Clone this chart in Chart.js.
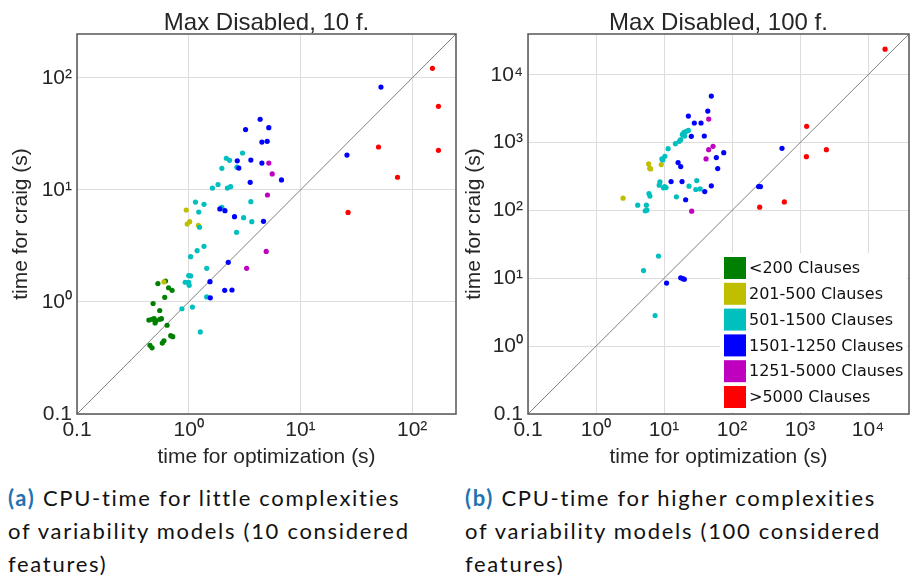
<!DOCTYPE html>
<html>
<head>
<meta charset="utf-8">
<script src="https://cdn.jsdelivr.net/npm/chart.js@4.4.0/dist/chart.umd.min.js"></script>
<style>
  body { margin: 0; background: #fff; width: 913px; height: 576px; position: relative; overflow: hidden; }
  canvas { position: absolute; top: 0; }
  .cap { position: absolute; top: 481px; font-family: Lato, sans-serif; font-size: 22px; line-height: 33px; letter-spacing: 1.7px; color: #111; white-space: nowrap; }
  .cap b { color: #2272b0; }
</style>
</head>
<body>
<canvas id="chartA" width="460" height="470" style="left:0px"></canvas>
<canvas id="chartB" width="453" height="470" style="left:460px"></canvas>
<div class="cap" style="left:8px"><b>(a)</b> CPU-time for little complexities<br>of variability models (10 considered<br>features)</div>
<div class="cap" style="left:465px"><b>(b)</b> CPU-time for higher complexities<br>of variability models (100 considered<br>features)</div>
<script>
// categories
const groupLabels = ['<200 Clauses', '201-500 Clauses', '501-1500 Clauses', '1501-1250 Clauses', '1251-5000 Clauses', '>5000 Clauses'];
const groupColors = ['#008000', '#bfbf00', '#00bfbf', '#0000ff', '#bf00bf', '#ff0000'];

// --- 10 features ---
const green10X = [0.53, 0.62, 0.66, 0.71, 0.61, 0.48, 0.55, 0.44, 0.47, 0.49, 0.51, 0.50, 0.55, 0.57, 0.64, 0.69, 0.72, 0.58, 0.60, 0.45, 0.47];
const green10Y = [1.46, 1.54, 1.34, 1.27, 1.10, 0.97, 0.84, 0.69, 0.70, 0.71, 0.68, 0.65, 0.70, 0.71, 0.62, 0.50, 0.49, 0.43, 0.45, 0.41, 0.39];
const yellow10X = [0.95, 1.02, 0.97, 1.22, 0.60];
const yellow10Y = [6.63, 5.21, 4.97, 4.84, 1.51];
const cyan10X = [3.03, 2.17, 2.32, 1.98, 2.70, 1.83, 1.63, 2.22, 2.37, 1.15, 1.37, 3.60, 1.98, 1.23, 3.10, 3.67, 1.25, 2.68, 1.37, 1.19, 1.04, 1.45, 1.00, 1.04, 0.93, 1.00, 1.01, 1.45, 0.87, 1.08, 1.27];
const cyan10Y = [21.4, 19.2, 18.4, 15.6, 16.0, 11.2, 10.4, 10.4, 10.7, 7.8, 7.45, 7.86, 7.0, 6.36, 5.66, 5.21, 4.65, 4.19, 3.14, 2.87, 2.54, 2.0, 1.72, 1.71, 1.5, 1.5, 1.41, 1.11, 0.87, 0.90, 0.54];
const blue10X = [52.6, 26.1, 4.36, 5.21, 3.23, 4.52, 5.04, 2.72, 3.60, 2.81, 4.52, 3.55, 6.77, 1.90, 2.11, 2.57, 4.67, 2.26, 1.55, 2.10, 2.44, 1.56];
const blue10Y = [83, 20.5, 42.8, 36, 34.6, 26.8, 27.2, 18.2, 18.5, 15.7, 17.4, 11.7, 12.3, 6.77, 6.53, 5.78, 5.25, 2.26, 1.52, 1.27, 1.28, 1.09];
const magenta10X = [5.21, 5.59, 5.07, 4.94, 3.30];
const magenta10Y = [17.4, 13.9, 9.02, 2.83, 2.0];
const red10X = [152, 172, 172, 50, 74, 26.7];
const red10Y = [122, 55.9, 22.6, 24.2, 13, 6.3];

// --- 100 features ---
const green100X = [];
const green100Y = [];
const yellow100X = [5.95, 6.15, 6.36, 9.1, 2.5];
const yellow100Y = [486, 419, 410, 475, 152];
const cyan100X = [22.8, 21.3, 19.7, 18.6, 20.1, 17.6, 16.8, 14.7, 11.5, 10.3, 9.6, 9.3, 8.7, 8.5, 10.2, 10.7, 9.8, 30.3, 23.3, 29.3, 34, 15.2, 6.0, 6.2, 4.1, 5.5, 5.3, 5.6, 8.3, 5.0, 7.4];
const cyan100Y = [1517, 1468, 1418, 1324, 1250, 1107, 1045, 966, 816, 629, 557, 576, 264, 236, 225, 218, 216, 276, 228, 204, 208, 159, 178, 163, 120, 120, 99, 101, 21.3, 13, 2.83];
const blue100X = [543, 246, 262, 49.6, 44, 22.8, 27.9, 35, 25.2, 39.1, 75.5, 58.8, 61.6, 16.1, 17.6, 12.7, 18.4, 49.6, 39.7, 20.8, 10.9, 17.6, 18.9, 19.9];
const blue100Y = [824, 225, 225, 4860, 2920, 2470, 1950, 1950, 1240, 1254, 713, 602, 415, 508, 444, 267, 267, 231, 190, 144, 8.5, 10.2, 9.9, 9.7];
const magenta100X = [45.4, 52.6, 45.4, 41.5, 25.5];
const magenta100Y = [2230, 883, 789, 576, 97.6];
const red100X = [17800, 1250, 1240, 2440, 588, 255];
const red100Y = [23900, 1740, 622, 789, 134, 112];

// axis ranges, ticks and the y = x reference line
const diagA = [0.1, 247];
const diagB = [0.1, 40000];
const ticksA = [0.1, 1, 10, 100];
const tickLabelsA = ['0.1', '10\u2070', '10\u00b9', '10\u00b2'];
const ticksB = [0.1, 1, 10, 100, 1000, 10000];
const tickLabelsB = ['0.1', '10\u2070', '10\u00b9', '10\u00b2', '10\u00b3', '10\u2074'];

const textColor = '#262626';

function pts(xs, ys) {
  return xs.map((x, i) => ({ x: x, y: ys[i] }));
}

// title, legend and the box round the plot
const framePlugin = {
  id: 'frame',
  afterDatasetsDraw(chart, args, opts) {
    const ctx = chart.ctx;
    if (opts.legend) {
      const L = opts.legend;
      ctx.save();
      ctx.fillStyle = '#fff';
      ctx.fillRect(L.bgX, L.bgY, L.bgW, L.bgH);
      ctx.font = '16px "DejaVu Sans"';
      ctx.textBaseline = 'middle';
      ctx.textAlign = 'left';
      for (let i = 0; i < groupLabels.length; i++) {
        const top = L.y + i * L.step;
        ctx.fillStyle = groupColors[i];
        ctx.fillRect(L.x, top, L.box, L.box);
        ctx.fillStyle = '#111';
        ctx.fillText(groupLabels[i], L.x + L.box + 3, top + L.box / 2 + 1);
      }
      ctx.restore();
    }
  },
  afterDraw(chart, args, opts) {
    const ctx = chart.ctx;
    const a = chart.chartArea;
    ctx.save();
    ctx.strokeStyle = '#555';
    ctx.lineWidth = 1.5;
    ctx.strokeRect(a.left, a.top, a.right - a.left, a.bottom - a.top);
    ctx.fillStyle = textColor;
    ctx.font = '24px "Liberation Sans"';
    ctx.textAlign = 'center';
    ctx.textBaseline = 'alphabetic';
    ctx.fillText(opts.title, (a.left + a.right) / 2, 29.5);
    ctx.restore();
  }
};

function makeChart(id, groups, diag, ticks, tickLabels, yAxisWidth, padRight, yTitlePad, legend, title) {
  const datasets = groups.map((g, i) => ({
    label: groupLabels[i],
    data: pts(g[0], g[1]),
    backgroundColor: groupColors[i],
    pointRadius: 2.6,
    pointBorderWidth: 0,
    order: groups.length - i
  }));
  datasets.push({
    label: 'y = x',
    data: pts(diag, diag),
    showLine: true,
    pointRadius: 0,
    borderColor: '#808080',
    borderWidth: 1,
    order: 20
  });

  const axisCommon = {
    type: 'logarithmic',
    min: diag[0],
    max: diag[1],
    border: { display: false },
    grid: { color: '#dddddd', lineWidth: 1, drawTicks: false },
    afterBuildTicks: s => { s.ticks = ticks.map(v => ({ value: v })); }
  };

  return new Chart(document.getElementById(id), {
    type: 'scatter',
    data: { datasets: datasets },
    options: {
      responsive: false,
      animation: false,
      devicePixelRatio: 1,
      layout: { padding: { top: 34, right: padRight, bottom: 0, left: 0 } },
      plugins: {
        legend: { display: false },
        tooltip: { enabled: false },
        frame: { title: title, legend: legend }
      },
      scales: {
        x: Object.assign({}, axisCommon, {
          position: 'bottom',
          afterFit: s => { s.height = 56; },
          ticks: {
            color: textColor, padding: 4, maxRotation: 0,
            font: { family: 'Liberation Sans', size: 21 },
            callback: (v, i) => tickLabels[i]
          },
          title: {
            display: true, text: 'time for optimization (s)', color: textColor,
            font: { family: 'Liberation Sans', size: 21 }, padding: { top: 0, bottom: 0 }
          }
        }),
        y: Object.assign({}, axisCommon, {
          position: 'left',
          afterFit: s => { s.width = yAxisWidth; },
          ticks: {
            color: textColor, padding: 5,
            font: { family: 'Liberation Sans', size: 21 },
            callback: (v, i) => tickLabels[i]
          },
          title: {
            display: true, text: 'time for craig (s)', color: textColor,
            font: { family: 'Liberation Sans', size: 21 }, padding: { top: yTitlePad, bottom: 0 }
          }
        })
      }
    },
    plugins: [framePlugin]
  });
}

makeChart('chartA',
  [[green10X, green10Y], [yellow10X, yellow10Y], [cyan10X, cyan10Y], [blue10X, blue10Y], [magenta10X, magenta10Y], [red10X, red10Y]],
  diagA, ticksA, tickLabelsA, 77, 3, 9, null, 'Max Disabled, 10 f.');

makeChart('chartB',
  [[green100X, green100Y], [yellow100X, yellow100Y], [cyan100X, cyan100Y], [blue100X, blue100Y], [magenta100X, magenta100Y], [red100X, red100Y]],
  diagB, ticksB, tickLabelsB, 68, 4, 1.5,
  { x: 264, y: 257, step: 25.8, box: 22, bgX: 260, bgY: 253, bgW: 187, bgH: 159 },
  'Max Disabled, 100 f.');
</script>
</body>
</html>
